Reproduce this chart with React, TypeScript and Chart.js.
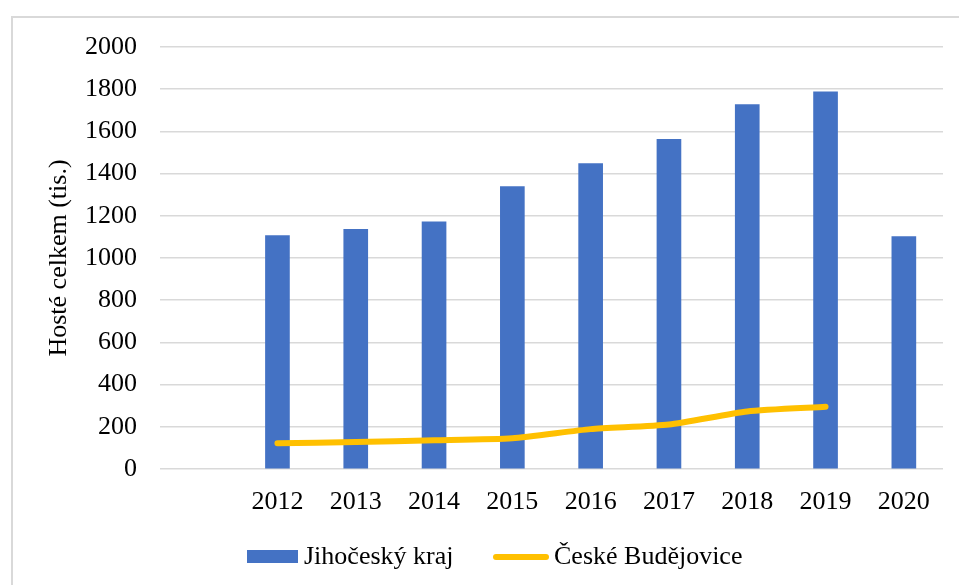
import React, { useEffect, useRef } from "react";
import { Chart, registerables } from "chart.js";

Chart.register(...registerables);

// ---- data ----
const categories = ["", "2012", "2013", "2014", "2015", "2016", "2017", "2018", "2019", "2020"];
const krajValues = [null, 1106, 1136, 1172, 1338, 1447, 1563, 1727, 1787, 1101];
const budejoviceValues = [null, 122, 128, 136, 146, 189, 211, 273, 295, null];
const seriesNames = ["Jihočeský kraj", "České Budějovice"];
const seriesColors = ["#4472C4", "#FFC000"];
const yMin = 0;
const yMax = 2000;
const yStep = 200;
const yTitle = "Hosté celkem (tis.)";

const FONT = "'Liberation Serif', 'Times New Roman', serif";

const framePlugin = {
  id: "frame",
  beforeDraw(chart: any) {
    const ctx = chart.ctx;
    ctx.save();
    ctx.fillStyle = "#ffffff";
    ctx.fillRect(0, 0, chart.width, chart.height);
    ctx.strokeStyle = "#D9D9D9";
    ctx.lineWidth = 2;
    ctx.strokeRect(12, 17, chart.width + 20, chart.height + 20);
    ctx.restore();
  },
};

const legendPlugin = {
  id: "customLegend",
  afterDraw(chart: any) {
    const ctx = chart.ctx;
    const ds = chart.data.datasets;
    const cy = 557;
    ctx.save();
    ctx.font = `26px ${FONT}`;
    ctx.textBaseline = "middle";
    // bar item
    ctx.fillStyle = ds[0].backgroundColor;
    ctx.fillRect(247, cy - 7, 51, 13);
    ctx.fillStyle = "#000";
    ctx.fillText(ds[0].label, 304, cy);
    // line item
    ctx.strokeStyle = ds[1].borderColor;
    ctx.lineWidth = 6;
    ctx.lineCap = "round";
    ctx.beginPath();
    ctx.moveTo(496, cy);
    ctx.lineTo(546, cy);
    ctx.stroke();
    ctx.fillText(ds[1].label, 554, cy);
    ctx.restore();
  },
};

export default function App() {
  const ref = useRef<HTMLCanvasElement>(null);

  useEffect(() => {
    document.body.style.margin = "0";
    const canvas = ref.current;
    if (!canvas) return;
    const chart = new Chart(canvas, {
      type: "bar",
      data: {
        labels: categories,
        datasets: [
          {
            type: "bar",
            label: seriesNames[0],
            data: krajValues as any,
            backgroundColor: seriesColors[0],
            borderWidth: 0,
            barThickness: 24,
            order: 1,
          },
          {
            type: "line",
            label: seriesNames[1],
            data: budejoviceValues as any,
            borderColor: seriesColors[1],
            backgroundColor: seriesColors[1],
            borderWidth: 6,
            borderCapStyle: "round",
            borderJoinStyle: "round",
            pointRadius: 0,
            tension: 0.2,
            spanGaps: false,
            order: 0,
          },
        ],
      },
      options: {
        animation: false,
        responsive: false,
        devicePixelRatio: 1,
        layout: { padding: { left: 44, top: 47, right: 16, bottom: 66 } },
        plugins: {
          legend: { display: false },
          tooltip: { enabled: false },
        },
        scales: {
          x: {
            grid: { display: false, drawTicks: false },
            border: { display: false },
            ticks: {
              font: { family: FONT, size: 26 },
              color: "#000",
              padding: 18,
              maxRotation: 0,
              autoSkip: false,
            },
            afterFit: (s: any) => {
              s.height = 50;
            },
          },
          y: {
            min: yMin,
            max: yMax,
            grid: { color: "#D9D9D9", lineWidth: 1.5, drawTicks: false },
            border: { display: false },
            ticks: {
              stepSize: yStep,
              font: { family: FONT, size: 26 },
              color: "#000",
              padding: 23,
              callback: (v: any) => String(v),
            },
            title: {
              display: true,
              text: yTitle,
              font: { family: FONT, size: 26 },
              color: "#000",
              padding: 0,
            },
            afterFit: (s: any) => {
              s.width = 116;
            },
          },
        },
      },
      plugins: [framePlugin, legendPlugin],
    });
    return () => chart.destroy();
  }, []);

  return <canvas ref={ref} width={959} height={585} style={{ display: "block" }} />;
}
